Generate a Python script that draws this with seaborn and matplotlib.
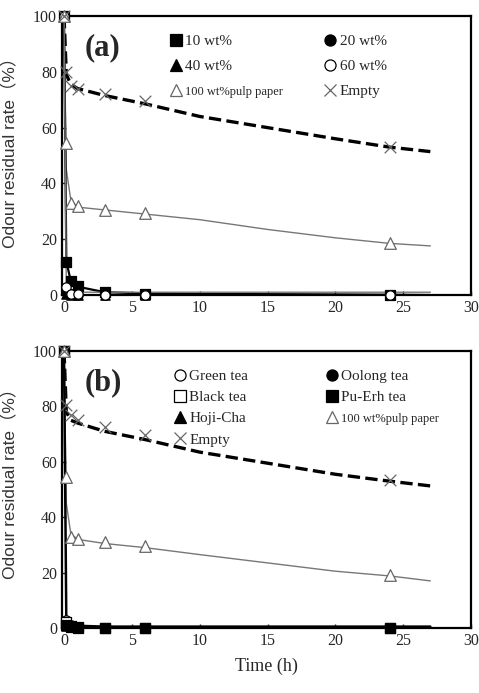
import numpy as np
import pandas as pd
import seaborn as sns
import matplotlib.pyplot as plt
from matplotlib.lines import Line2D

# measured points
times = [0, 0.17, 0.5, 1, 3, 6, 24]
# fitted curves
fit_t = [0, 0.17, 0.5, 1, 3, 6, 10, 15, 20, 24, 27]

# ---- panel (a)
a_wt10 = [100, 12, 5, 3.2, 1, 0.5, 0]
a_wt20 = [100, 1.5, 0.5, 0, 0, 0, 0]
a_wt40 = [100, 0.5, 0, 0, 0, 0, 0]
a_wt60 = [100, 3, 0.5, 0.3, 0, 0, 0]
a_pulp = [100, 54.5, 33, 32, 30.5, 29.5, 18.5]
a_empty = [100, 80, 75, 74, 72, 69.5, 53]

a_fit_wt10 = [100, 12, 5, 3, 1, 0.6, 0.4, 0.3, 0.2, 0.1, 0]
a_fit_low = [100, 2, 1.2, 1, 1, 1, 1, 1, 1, 1, 1]
a_fit_pulp = [100, 45, 34, 31.5, 30.5, 29, 27, 23.5, 20.5, 18.5, 17.6]
a_fit_empty = [100, 79, 75.5, 74, 71.5, 68.5, 64, 60, 56, 53, 51.4]

# ---- panel (b)
b_green = [100, 3, 1, 0.5, 0, 0, 0]
b_oolong = [100, 1.5, 0.5, 0, 0, 0, 0]
b_black = [100, 2, 0.8, 0.3, 0, 0, 0]
b_puerh = [100, 1, 0.5, 0, 0, 0, 0]
b_hoji = [100, 0.8, 0.3, 0, 0, 0, 0]
b_pulp = [100, 54.5, 33, 32, 31, 29.5, 19]
b_empty = [100, 80.5, 76.8, 75, 72.6, 69.6, 53.3]

b_fit_low = [100, 2, 1, 0.8, 0.5, 0.5, 0.5, 0.5, 0.5, 0.5, 0.5]
b_fit_pulp = [100, 45, 34, 32, 30.5, 29, 26.5, 23.5, 20.5, 18.8, 17]
b_fit_empty = [100, 78, 75, 74, 71, 68, 63.5, 59.5, 55.5, 53, 51.3]

sns.set_style("ticks")
plt.rcParams['font.family'] = ['Liberation Serif', 'DejaVu Serif']
plt.rcParams['xtick.direction'] = 'in'
plt.rcParams['ytick.direction'] = 'in'

fig = plt.figure(figsize=(4.79, 6.93), dpi=100)
ax_a = fig.add_axes([0.1294, 0.5743, 0.854, 0.4026])
ax_b = fig.add_axes([0.1294, 0.0938, 0.854, 0.3997])


def fit_line(ax, y, color, lw, ls='-'):
    df = pd.DataFrame({"t": fit_t, "v": y})
    sns.lineplot(data=df, x="t", y="v", ax=ax, color=color, lw=lw, ls=ls)


def points(ax, y, marker, fc, ec, label, size=45, lw=0.9):
    df = pd.DataFrame({"t": times, "v": y})
    if marker == 'x':
        sns.scatterplot(data=df, x="t", y="v", ax=ax, marker='x', s=size,
                        color=ec, linewidth=lw, clip_on=False, zorder=5)
        return Line2D([], [], ls='', marker='x', color=ec, markersize=8,
                      markeredgewidth=lw, label=label)
    sns.scatterplot(data=df, x="t", y="v", ax=ax, marker=marker, s=size,
                    facecolor=fc, edgecolor=ec, linewidth=lw, clip_on=False,
                    zorder=5)
    return Line2D([], [], ls='', marker=marker, markerfacecolor=fc,
                  markeredgecolor=ec, markersize=8, markeredgewidth=lw,
                  label=label)


# panel (a)
fit_line(ax_a, a_fit_empty, 'black', 2.4, '--')
fit_line(ax_a, a_fit_pulp, '#777777', 1.0)
fit_line(ax_a, a_fit_wt10, 'black', 1.6)
fit_line(ax_a, a_fit_low, '#777777', 1.0)
h10 = points(ax_a, a_wt10, 's', 'black', 'black', '10 wt%')
h20 = points(ax_a, a_wt20, 'o', 'black', 'black', '20 wt%')
h40 = points(ax_a, a_wt40, '^', 'black', 'black', '40 wt%')
h60 = points(ax_a, a_wt60, 'o', 'white', 'black', '60 wt%')
hp = points(ax_a, a_pulp, '^', 'white', '#666666', '100 wt%pulp paper', size=70)
he = points(ax_a, a_empty, 'x', 'none', '#666666', 'Empty', size=70)
leg = ax_a.legend(handles=[h10, h40, hp, h20, h60, he], ncol=2, frameon=False,
                  loc='upper left', bbox_to_anchor=(0.245, 0.962), borderpad=0,
                  fontsize=11, handlelength=0.8, handletextpad=0.2,
                  labelspacing=0.75, columnspacing=2.7)
leg.get_texts()[2].set_fontsize(9)
ax_a.text(0.055, 0.86, "(a)", transform=ax_a.transAxes, fontsize=22,
          fontweight='bold')

# panel (b)
fit_line(ax_b, b_fit_empty, 'black', 2.4, '--')
fit_line(ax_b, b_fit_pulp, '#777777', 1.0)
fit_line(ax_b, b_fit_low, 'black', 1.8)
hg = points(ax_b, b_green, 'o', 'white', 'black', 'Green tea')
ho = points(ax_b, b_oolong, 'o', 'black', 'black', 'Oolong tea')
hb = points(ax_b, b_black, 's', 'white', 'black', 'Black tea')
hpe = points(ax_b, b_puerh, 's', 'black', 'black', 'Pu-Erh tea')
hh = points(ax_b, b_hoji, '^', 'black', 'black', 'Hoji-Cha')
hp2 = points(ax_b, b_pulp, '^', 'white', '#666666', '100 wt%pulp paper', size=70)
he2 = points(ax_b, b_empty, 'x', 'none', '#666666', 'Empty', size=70)
leg = ax_b.legend(handles=[hg, hb, hh, he2, ho, hpe, hp2], ncol=2, frameon=False,
                  loc='upper left', bbox_to_anchor=(0.255, 0.96), borderpad=0,
                  fontsize=11, handlelength=0.8, handletextpad=0.2,
                  labelspacing=0.48, columnspacing=5.1)
leg.get_texts()[6].set_fontsize(9)
ax_b.text(0.055, 0.86, "(b)", transform=ax_b.transAxes, fontsize=22,
          fontweight='bold')

for ax, ly in ((ax_a, 0.527), (ax_b, 0.538)):
    ax.set_xlim(-0.15, 30)
    ax.set_ylim(0, 100)
    ax.set_xticks(range(0, 31, 5))
    ax.set_yticks(range(0, 101, 20))
    ax.tick_params(labelsize=11.5, length=3, width=1, top=False, right=False)
    for sp in ax.spines.values():
        sp.set_visible(True)
        sp.set_linewidth(1.6)
        sp.set_color('black')
    ax.set_ylabel("Odour residual rate（%）", fontsize=12.5, color='#333333',
                  family=['Liberation Sans', 'Noto Sans CJK SC'])
    ax.yaxis.set_label_coords(-0.106, ly)
    ax.set_xlabel("")

ax_b.set_xlabel("Time (h)", fontsize=13, labelpad=6)

fig.savefig("out.png", dpi=100)
